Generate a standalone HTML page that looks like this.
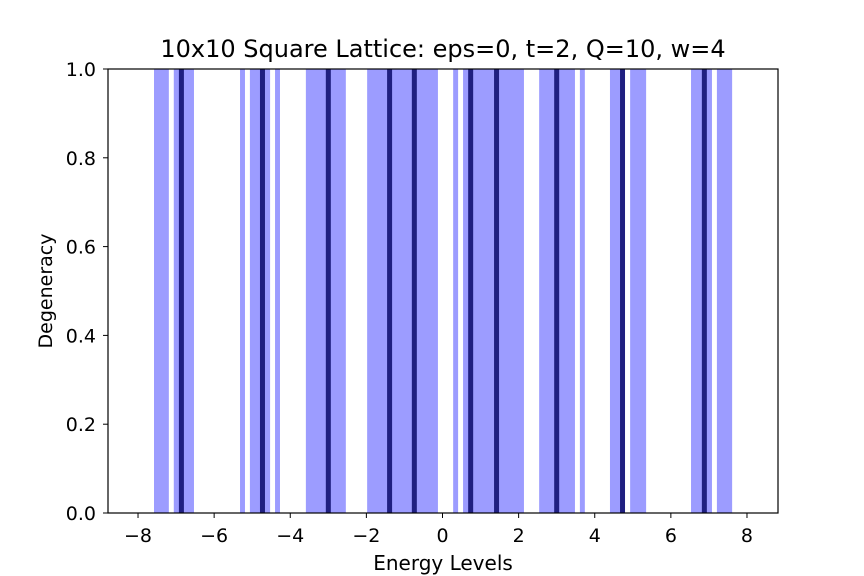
<!DOCTYPE html>
<html><head><meta charset="utf-8"><style>
body{margin:0;background:#fff;}
svg{display:block;font-family:"DejaVu Sans","Liberation Sans",sans-serif;}
</style></head><body>
<svg id="chart" width="864" height="576">
<text x="443" y="57" font-size="24" text-anchor="middle">10x10 Square Lattice: eps=0, t=2, Q=10, w=4</text>
<g id="marks"></g>
<rect x="108" y="69" width="670" height="444" fill="none" stroke="#000" stroke-width="1.2"/>
<g id="axes"></g>
<text x="443" y="570" font-size="20" text-anchor="middle">Energy Levels</text>
<text transform="translate(52,291) rotate(-90)" font-size="19" text-anchor="middle">Degeneracy</text>
</svg>
<script>
const bandStarts=[-7.58,-7.06,-5.32,-5.06,-4.40,-3.59,-1.98,0.28,0.54,2.54,3.61,4.40,4.93,6.53,7.21];
const bandEnds=[-7.19,-6.53,-5.19,-4.53,-4.27,-2.54,-0.12,0.41,2.14,3.48,3.74,4.79,5.35,7.08,7.61];
const darkLevels=[-6.86,-4.73,-3.00,-1.39,-0.74,0.74,1.42,3.00,4.73,6.88];
const xTicks=[-8,-6,-4,-2,0,2,4,6,8];
const yTicks=[0,0.2,0.4,0.6,0.8,1.0];
const NS="http://www.w3.org/2000/svg";
const sx=v=>442.5+v*38.06;
const sy=v=>513-v*444;
const marks=document.getElementById('marks'),axes=document.getElementById('axes');
function mk(tag,attrs,parent){const e=document.createElementNS(NS,tag);for(const k in attrs)e.setAttribute(k,attrs[k]);parent.appendChild(e);return e;}
bandStarts.forEach((s,i)=>{
 const r=mk('rect',{x:sx(s),y:sy(1),width:sx(bandEnds[i])-sx(s),height:sy(0)-sy(1),fill:'#9c9cff'},marks);
 
 
});
darkLevels.forEach(d=>{
 const r=mk('rect',{x:sx(d)-2.5,y:sy(1),width:5,height:sy(0)-sy(1),fill:'#1f1f80'},marks);
 
 
});
xTicks.forEach(t=>{
 const l=mk('line',{x1:sx(t),x2:sx(t),y1:513,y2:518,stroke:'#000','stroke-width':1},axes);
 
 
 const tx=mk('text',{x:sx(t),y:542,'font-size':19,'text-anchor':'middle'},axes);
 tx.textContent=(t<0?'\u2212'+(-t):t);
 
 
});
yTicks.forEach(t=>{
 const l=mk('line',{x1:103,x2:108,y1:sy(t),y2:sy(t),stroke:'#000','stroke-width':1},axes);
 
 
 const tx=mk('text',{x:96,y:sy(t)+7,'font-size':19,'text-anchor':'end'},axes);
 tx.textContent=t.toFixed(1);
 
 
});
</script>
</body></html>
